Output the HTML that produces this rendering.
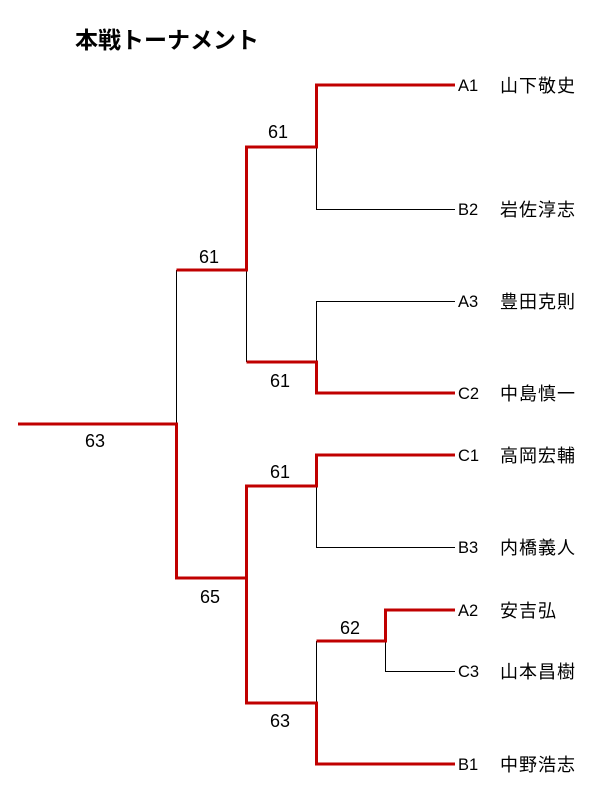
<!DOCTYPE html>
<html><head><meta charset="utf-8"><style>
body{margin:0;background:#fff;width:600px;height:800px;overflow:hidden}
svg{display:block}
text{font-family:"Liberation Sans","Noto Sans CJK JP",sans-serif;fill:#000}
.n{font-size:18px}
.c{font-size:16.5px}
.m{font-size:18px;letter-spacing:1px}
</style></head><body>
<svg width="600" height="800" viewBox="0 0 600 800">
<text x="75" y="48" style="font-size:23px;font-weight:bold">本戦トーナメント</text>
<g stroke="#000" stroke-width="1" fill="none">
<path d="M316.5 147V209.5H455"/>
<path d="M316.5 362V301.5H455"/>
<path d="M246.5 270V362"/>
<path d="M176.5 270V424"/>
<path d="M316.5 486V547.5H455"/>
<path d="M385.5 641V671.5H455"/>
<path d="M316.5 641V703"/>
</g>
<g stroke="#c00000" stroke-width="3" fill="none">
<path d="M455 85H316.5V147H246.5V270H176.5"/>
<path d="M455 393H316.5V362H246.5"/>
<path d="M18 424H176.5V578H246.5V486H316.5V455H455"/>
<path d="M246.5 578V703H316.5V764H455"/>
<path d="M455 610H385.5V641H316.5"/>
</g>
<g class="n">
<text x="268" y="138">61</text>
<text x="199" y="263">61</text>
<text x="270" y="387">61</text>
<text x="85" y="447">63</text>
<text x="270" y="478">61</text>
<text x="200" y="603">65</text>
<text x="340" y="634">62</text>
<text x="270" y="727">63</text>
</g>
<g class="c">
<text x="458" y="91">A1</text>
<text x="458" y="215">B2</text>
<text x="458" y="307">A3</text>
<text x="458" y="399">C2</text>
<text x="458" y="461">C1</text>
<text x="458" y="553">B3</text>
<text x="458" y="616">A2</text>
<text x="458" y="677">C3</text>
<text x="458" y="770">B1</text>
</g>
<g class="m">
<text x="500" y="92">山下敬史</text>
<text x="500" y="216">岩佐淳志</text>
<text x="500" y="308">豊田克則</text>
<text x="500" y="400">中島慎一</text>
<text x="500" y="462">高岡宏輔</text>
<text x="500" y="554">内橋義人</text>
<text x="500" y="617">安吉弘</text>
<text x="500" y="678">山本昌樹</text>
<text x="500" y="771">中野浩志</text>
</g>
</svg>
</body></html>
